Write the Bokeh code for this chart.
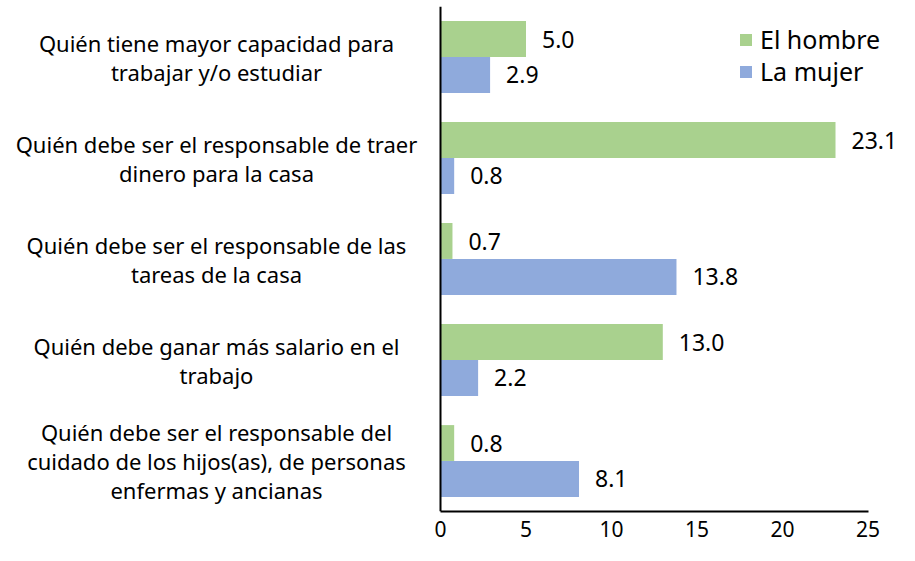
from bokeh.plotting import figure
from bokeh.models import (ColumnDataSource, FactorRange, Range1d, LabelSet, FixedTicker,
                          Legend, LegendItem, Span)
from bokeh.transform import dodge
from bokeh.core.properties import value
from bokeh.embed import file_html
from bokeh.resources import INLINE

categories = [
    "Quién tiene mayor capacidad para\ntrabajar y/o estudiar",
    "Quién debe ser el responsable de traer\ndinero para la casa",
    "Quién debe ser el responsable de las\ntareas de la casa",
    "Quién debe ganar más salario en el\ntrabajo",
    "Quién debe ser el responsable del\ncuidado de los hijos(as), de personas\nenfermas y ancianas",
]
hombre = [5.0, 23.1, 0.7, 13.0, 0.8]
mujer = [2.9, 0.8, 13.8, 2.2, 8.1]
series_names = ["El hombre", "La mujer"]
x_ticks = [0, 5, 10, 15, 20, 25]

GREEN = "#A9D18E"
BLUE = "#8FAADC"
FONT = "Noto Sans"
LINE_PX = 29  # spacing of wrapped category lines

source = ColumnDataSource(dict(
    cat=categories,
    hombre=hombre,
    mujer=mujer,
    hombre_txt=[f"{v:.1f}" for v in hombre],
    mujer_txt=[f"{v:.1f}" for v in mujer],
))

# one entry per wrapped line of each category label, centred as a block
line_cat, line_txt, line_off = [], [], []
for c in categories:
    parts = c.split("\n")
    n = len(parts)
    for k, t in enumerate(parts):
        line_cat.append(c)
        line_txt.append(t)
        line_off.append(((n - 1) / 2 - k) * LINE_PX)
line_src = ColumnDataSource(dict(cat=line_cat, txt=line_txt, yoff=line_off,
                                 zero=[0] * len(line_cat)))

W, H = 899, 545
x0_px = 440          # screen position of value 0
px_per_unit = 17.1
p = figure(width=W, height=H, output_backend="svg", toolbar_location=None,
           y_range=FactorRange(factors=list(reversed(categories))),
           x_range=Range1d(-x0_px / px_per_unit, (W - x0_px) / px_per_unit),
           y_axis_location=None,
           min_border_left=0, min_border_right=0, min_border_top=6, min_border_bottom=34)
p.outline_line_color = None
p.grid.grid_line_color = None
p.background_fill_color = None
p.border_fill_color = "white"

bar_h = 0.355
off = 0.178
r1 = p.hbar(y=dodge("cat", off, range=p.y_range), left=0, right="hombre", height=bar_h,
            source=source, fill_color=GREEN, line_color=None)
r2 = p.hbar(y=dodge("cat", -off, range=p.y_range), left=0, right="mujer", height=bar_h,
            source=source, fill_color=BLUE, line_color=None)

# vertical axis line at zero
p.add_layout(Span(location=0, dimension="height", line_color="#000000", line_width=2))

for col, o in (("hombre", off), ("mujer", -off)):
    p.add_layout(LabelSet(x=col, y=dodge("cat", o, range=p.y_range), text=col + "_txt",
                          source=source, x_offset=16, text_align="left", text_baseline="middle",
                          text_font=value(FONT), text_font_size="23px", text_color="#000000"))

p.add_layout(LabelSet(x="zero", y="cat", text="txt", source=line_src, x_offset=-224,
                      y_offset="yoff", text_align="center", text_baseline="middle",
                      text_font=value(FONT), text_font_size="22px", text_color="#000000"))

# x axis
p.xaxis.ticker = FixedTicker(ticks=x_ticks)
p.xaxis.bounds = (x_ticks[0], x_ticks[-1])
p.xaxis.major_tick_line_color = None
p.xaxis.minor_tick_line_color = None
p.xaxis.axis_line_width = 2
p.xaxis.axis_line_color = "#000000"
p.xaxis.major_label_text_font = FONT
p.xaxis.major_label_text_font_size = "21px"
p.xaxis.major_label_text_color = "#000000"
p.xaxis.major_label_standoff = 3

# legend: two single-entry legends to control row pitch
renderers = [r1, r2]
legend_y = [455, 423]
for name, r, ly in zip(series_names, renderers, legend_y):
    lg = Legend(items=[LegendItem(label=name, renderers=[r])], location=(738, ly))
    lg.label_text_font = FONT
    lg.label_text_font_size = "25px"
    lg.label_text_color = "#000000"
    lg.glyph_width = 15
    lg.glyph_height = 15
    lg.label_standoff = 7
    lg.padding = 0
    lg.margin = 0
    lg.spacing = 0
    lg.border_line_color = None
    lg.background_fill_alpha = 0
    p.add_layout(lg)

open("out.html", "w").write(file_html(p, INLINE))
